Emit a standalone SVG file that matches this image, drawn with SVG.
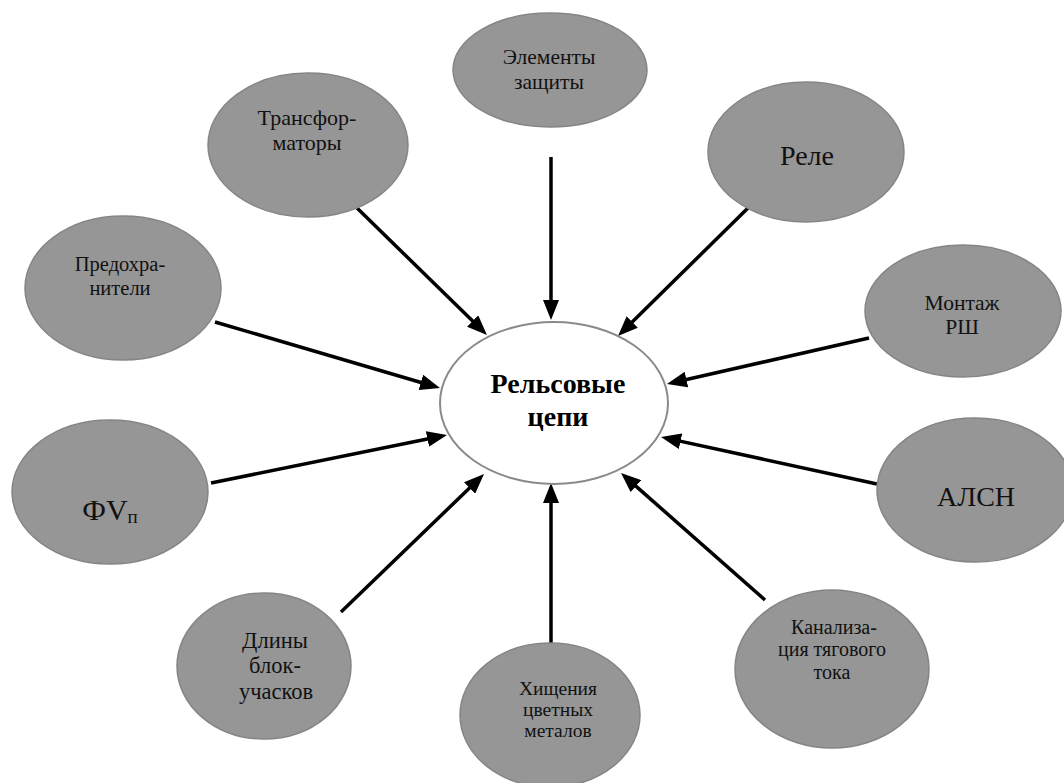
<svg xmlns="http://www.w3.org/2000/svg" width="1064" height="783" viewBox="0 0 1064 783">
<style>
.n{fill:#969696;stroke:#858585;stroke-width:1.5}
.c{fill:#ffffff;stroke:#8a8a8a;stroke-width:2}
.t{font-family:"Liberation Serif","Times New Roman","DejaVu Serif",serif;font-size:19.5px;fill:#111;text-anchor:middle}
.big{font-size:28px}
.b{font-weight:bold;font-size:28px;fill:#000}
.e line{stroke:#000;stroke-width:3.5;marker-end:url(#ah)}
</style>
<defs>
<marker id="ah" viewBox="0 0 20 16" refX="10" refY="8" markerWidth="20" markerHeight="16" markerUnits="userSpaceOnUse" orient="auto">
<path d="M0,0 L20,8 L0,16 z" fill="#000"/>
</marker>
</defs>
<rect width="1064" height="783" fill="#fff"/>
<g id="connectors" class="e">
<line x1="551" y1="157" x2="551" y2="310"/>
<line x1="357" y1="208" x2="479.8" y2="328"/>
<line x1="748" y1="208" x2="625.1" y2="329"/>
<line x1="215" y1="322" x2="430.4" y2="385.2"/>
<line x1="869" y1="338" x2="676.7" y2="381.8"/>
<line x1="211" y1="483" x2="437.2" y2="437"/>
<line x1="877" y1="484" x2="670.8" y2="439.1"/>
<line x1="341" y1="612" x2="476.8" y2="481"/>
<line x1="551" y1="643" x2="551" y2="493"/>
<line x1="765" y1="600" x2="628.5" y2="479.6"/>
</g>
<g id="center">
<ellipse class="c" cx="554" cy="403" rx="114" ry="81"/>
<text class="t b" x="558" y="393">Рельсовые</text>
<text class="t b" x="558" y="426">цепи</text>
</g>
<g id="n-zashchita">
<ellipse class="n" cx="550" cy="70" rx="97" ry="57"/>
<text class="t" x="549" y="64" style="font-size:21.5px">Элементы</text>
<text class="t" x="549" y="89" style="font-size:21.5px">защиты</text>
</g>
<g id="n-transformatory">
<ellipse class="n" cx="308" cy="145" rx="100" ry="72"/>
<text class="t" x="307" y="125" style="font-size:22px">Трансфор-</text>
<text class="t" x="307" y="150" style="font-size:22px">маторы</text>
</g>
<g id="n-rele">
<ellipse class="n" cx="806" cy="152" rx="98" ry="70"/>
<text class="t big" x="807" y="165">Реле</text>
</g>
<g id="n-predokhraniteli">
<ellipse class="n" cx="123" cy="288" rx="98" ry="72"/>
<text class="t" x="120" y="271" style="font-size:20.5px">Предохра-</text>
<text class="t" x="120" y="295" style="font-size:20.5px">нители</text>
</g>
<g id="n-montazh">
<ellipse class="n" cx="963" cy="311" rx="98" ry="66"/>
<text class="t" x="962" y="310" style="font-size:21.5px">Монтаж</text>
<text class="t" x="962" y="334" style="font-size:21.5px">РШ</text>
</g>
<g id="n-fv">
<ellipse class="n" cx="110" cy="492" rx="98" ry="72"/>
<text class="t" x="110" y="520" style="font-size:30px">ФV<tspan style="font-size:19px" dy="3">п</tspan></text>
</g>
<g id="n-alsn">
<ellipse class="n" cx="975" cy="490" rx="98" ry="72"/>
<text class="t big" x="976" y="506">АЛСН</text>
</g>
<g id="n-dliny">
<ellipse class="n" cx="264" cy="666" rx="87" ry="73"/>
<text class="t" x="275" y="648" style="font-size:22.5px">Длины</text>
<text class="t" x="275" y="673" style="font-size:22.5px">блок-</text>
<text class="t" x="276" y="699" style="font-size:22.5px">учасков</text>
</g>
<g id="n-khishcheniya">
<ellipse class="n" cx="550" cy="715" rx="90" ry="72"/>
<text class="t" x="558" y="695">Хищения</text>
<text class="t" x="558" y="716">цветных</text>
<text class="t" x="558" y="737">металов</text>
</g>
<g id="n-kanalizatsiya">
<ellipse class="n" cx="832" cy="669" rx="97" ry="79"/>
<text class="t" x="834" y="634" style="font-size:20px">Канализа-</text>
<text class="t" x="832" y="656" style="font-size:20px">ция тягового</text>
<text class="t" x="832" y="679" style="font-size:20px">тока</text>
</g>
</svg>
